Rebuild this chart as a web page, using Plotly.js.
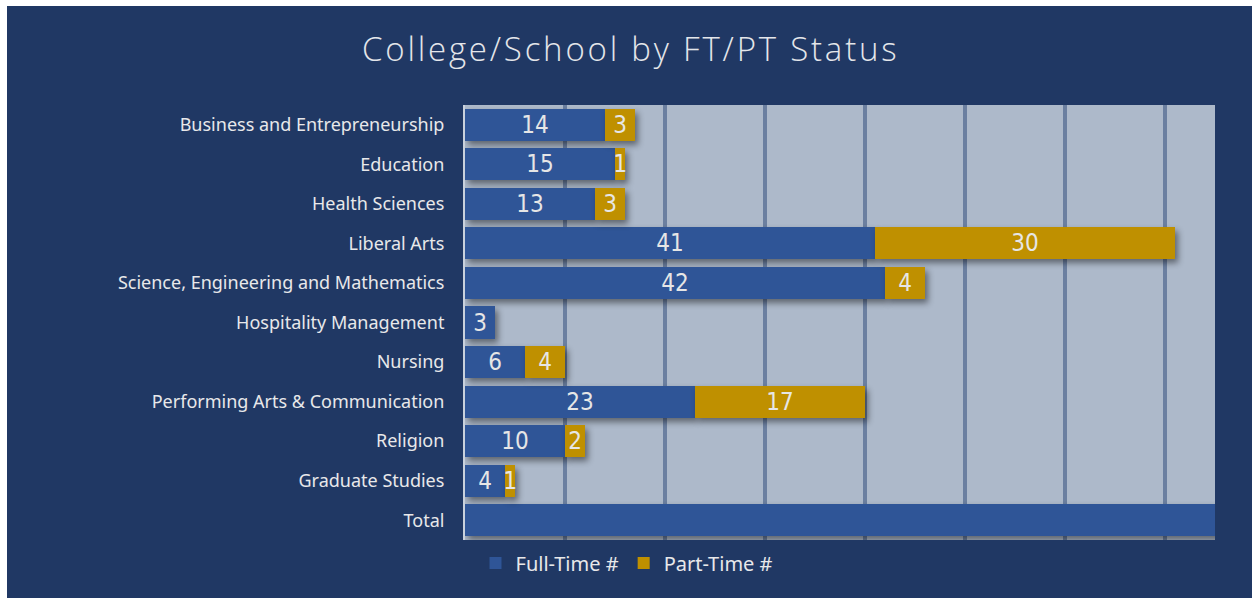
<!DOCTYPE html>
<html>
<head>
<meta charset="utf-8">
<script src="https://cdn.plot.ly/plotly-3.0.1.min.js"></script>
<style>
  html, body { margin: 0; padding: 0; background: #ffffff; width: 1252px; height: 598px; overflow: hidden; }
  #chart { position: absolute; left: 7px; top: 6px; width: 1245px; height: 592px; }
  .gtitle { letter-spacing: 2.8px; }
  .barlayer .point path { filter: drop-shadow(3px 4px 3px rgba(0,0,0,0.45)); }
</style>
</head>
<body>
<div id="chart"></div>
<script>
const categories = [
  "Business and Entrepreneurship",
  "Education",
  "Health Sciences",
  "Liberal Arts",
  "Science, Engineering and Mathematics",
  "Hospitality Management",
  "Nursing",
  "Performing Arts & Communication",
  "Religion",
  "Graduate Studies",
  "Total"
];
const fullTime = [14, 15, 13, 41, 42, 3, 6, 23, 10, 4, 171];
const partTime = [3, 1, 3, 30, 4, 0, 4, 17, 2, 1, 65];
const xTicks = [0, 10, 20, 30, 40, 50, 60, 70];

const labelFor = (vals) => vals.map((v, i) => (categories[i] === "Total" || v === 0) ? "" : String(v));

const labelFont = { family: "'DejaVu Sans Condensed', 'Liberation Sans Narrow', 'Roboto', sans-serif", size: 24, color: "#e6e6e6", weight: 300 };

const traces = [
  {
    type: "bar", orientation: "h", name: "Full-Time #",
    y: categories, x: fullTime,
    text: labelFor(fullTime), textposition: "inside", insidetextanchor: "middle",
    textangle: 0, textfont: labelFont, constraintext: "none",
    marker: { color: "#2f5597" }
  },
  {
    type: "bar", orientation: "h", name: "Part-Time #",
    y: categories, x: partTime,
    text: labelFor(partTime), textposition: "inside", insidetextanchor: "middle",
    textangle: 0, textfont: labelFont, constraintext: "none",
    marker: { color: "#bf9000" }
  }
];

const layout = {
  width: 1245, height: 592,
  paper_bgcolor: "#203864",
  plot_bgcolor: "#adb9ca",
  barmode: "stack",
  bargap: 0.19,
  margin: { l: 458, r: 37, t: 99, b: 58 },
  title: {
    text: "College/School by FT/PT Status",
    font: { family: "'Open Sans', 'Noto Sans', sans-serif", size: 33, color: "#e4e6ea", weight: 300 },
    x: 0.501, xref: "container", xanchor: "center",
    y: 0.926, yref: "container", yanchor: "middle"
  },
  xaxis: {
    range: [0, 75], tickvals: xTicks, showticklabels: false,
    showgrid: true, gridcolor: "#6b7fa0", gridwidth: 3.5,
    zeroline: false, showline: false, fixedrange: true
  },
  yaxis: {
    type: "category", autorange: "reversed",
    tickfont: { family: "'Noto Sans', sans-serif", size: 18, color: "#e8e8ea" },
    ticklabelstandoff: 15,
    showgrid: false, zeroline: false,
    showline: true, linecolor: "#c9d1dd", linewidth: 2, fixedrange: true
  },
  showlegend: true,
  legend: {
    orientation: "h",
    x: 0.498, xref: "container", xanchor: "center",
    y: 0.059, yref: "container", yanchor: "middle",
    font: { family: "'Noto Sans', sans-serif", size: 20, color: "#e8e8ea" },
    bgcolor: "rgba(0,0,0,0)", traceorder: "normal",
    itemclick: false, itemdoubleclick: false
  },
  hovermode: false
};

Plotly.newPlot("chart", traces, layout, { displayModeBar: false, staticPlot: true });
</script>
</body>
</html>
